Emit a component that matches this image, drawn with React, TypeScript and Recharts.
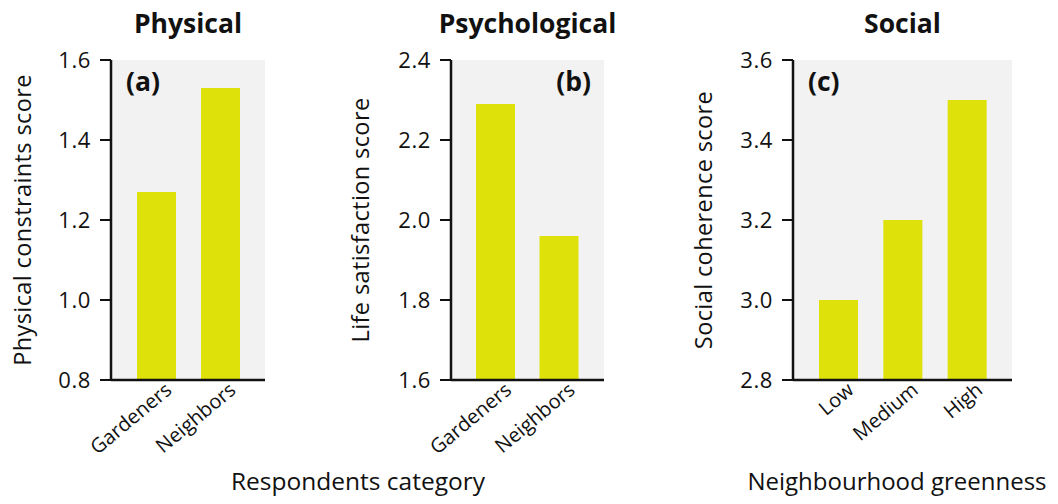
import React from 'react';
import { BarChart, Bar, XAxis, YAxis, CartesianGrid } from 'recharts';

// Category labels
const respondentCategories = ['Gardeners', 'Neighbors'];
const greennessLevels = ['Low', 'Medium', 'High'];

// Mean scores per panel
const physicalScores = [1.27, 1.53];
const psychologicalScores = [2.29, 1.96];
const socialScores = [3.0, 3.2, 3.5];

// Y-axis tick values per panel
const physicalTicks = [0.8, 1.0, 1.2, 1.4, 1.6];
const psychologicalTicks = [1.6, 1.8, 2.0, 2.2, 2.4];
const socialTicks = [2.8, 3.0, 3.2, 3.4, 3.6];

const FONT = '"Open Sans", "DejaVu Sans", sans-serif';
const BAR_COLOR = '#dee20a';
const PANEL_BG = '#f2f2f2';
const CHART_H = 504;
const TOP = 60;
const PLOT_H = 320;

const toRows = (cats: string[], vals: number[]) =>
  cats.map((category, i) => ({ category, score: vals[i] }));

const SlantedTick = (props: any) => {
  const { x, y, payload } = props;
  return (
    <text
      transform={`translate(${x + 17},${y + 12}) rotate(-40)`}
      textAnchor="end"
      fontSize={20}
      fill="#111"
      fontFamily={FONT}
    >
      {payload.value}
    </text>
  );
};

type PanelProps = {
  left: number;
  width: number;
  axisWidth: number;
  plotWidth: number;
  rows: { category: string; score: number }[];
  ticks: number[];
  title: string;
  tag: string;
  tagSide: 'left' | 'right';
  yLabel: string;
  yLabelX: number;
};

function Panel(p: PanelProps) {
  const right = p.width - p.axisWidth - p.plotWidth;
  const plotLeft = p.axisWidth;
  const plotRight = p.axisWidth + p.plotWidth;
  const center = (plotLeft + plotRight) / 2;
  return (
    <div style={{ position: 'absolute', left: p.left, top: 0 }}>
      <BarChart
        width={p.width}
        height={CHART_H}
        data={p.rows}
        margin={{ top: TOP, right, bottom: 0, left: 0 }}
        style={{ fontFamily: FONT }}
      >
        <CartesianGrid fill={PANEL_BG} stroke="none" horizontal={false} vertical={false} />
        <XAxis
          dataKey="category"
          height={CHART_H - TOP - PLOT_H}
          padding={{ left: 13, right: 13 }}
          axisLine={{ stroke: '#111', strokeWidth: 2.5 }}
          tickLine={false}
          tickSize={0}
          tickMargin={0}
          tick={<SlantedTick />}
          interval={0}
        />
        <YAxis
          width={p.axisWidth}
          domain={[p.ticks[0], p.ticks[p.ticks.length - 1]]}
          ticks={p.ticks}
          allowDataOverflow
          tickFormatter={(v: number) => v.toFixed(1)}
          axisLine={{ stroke: '#111', strokeWidth: 2.5 }}
          tickLine={{ stroke: '#111', strokeWidth: 2 }}
          tickSize={11}
          tickMargin={9}
          tick={{ fill: '#111', fontSize: 22, fontFamily: FONT, letterSpacing: 0.6 }}
        />
        <Bar dataKey="score" fill={BAR_COLOR} barSize={39} isAnimationActive={false} />
        <text
          x={center}
          y={33}
          textAnchor="middle"
          fontSize={26.5}
          fontWeight={700}
          fill="#111"
          fontFamily={FONT}
        >
          {p.title}
        </text>
        <text
          x={p.tagSide === 'left' ? plotLeft + 15 : plotRight - 13}
          y={91}
          textAnchor={p.tagSide === 'left' ? 'start' : 'end'}
          fontSize={26.5}
          fontWeight={700}
          fill="#111"
          fontFamily={FONT}
        >
          {p.tag}
        </text>
        <text
          transform={`translate(${p.yLabelX},${TOP + PLOT_H / 2}) rotate(-90)`}
          textAnchor="middle"
          dominantBaseline="central"
          fontSize={23.5}
          letterSpacing={0.4}
          fill="#111"
          fontFamily={FONT}
        >
          {p.yLabel}
        </text>
      </BarChart>
    </div>
  );
}

export default function App() {
  return (
    <div
      style={{
        position: 'absolute',
        left: 0,
        top: 0,
        width: 1058,
        height: 504,
        background: '#fff',
        overflow: 'hidden',
      }}
    >
      <Panel
        left={0}
        width={280}
        axisWidth={111}
        plotWidth={154}
        rows={toRows(respondentCategories, physicalScores)}
        ticks={physicalTicks}
        title="Physical"
        tag="(a)"
        tagSide="left"
        yLabel="Physical constraints score"
        yLabelX={22}
      />
      <Panel
        left={340}
        width={280}
        axisWidth={111}
        plotWidth={153}
        rows={toRows(respondentCategories, psychologicalScores)}
        ticks={psychologicalTicks}
        title="Psychological"
        tag="(b)"
        tagSide="right"
        yLabel="Life satisfaction score"
        yLabelX={20}
      />
      <Panel
        left={680}
        width={360}
        axisWidth={113}
        plotWidth={219}
        rows={toRows(greennessLevels, socialScores)}
        ticks={socialTicks}
        title="Social"
        tag="(c)"
        tagSide="left"
        yLabel="Social coherence score"
        yLabelX={23}
      />
      <svg
        width={1058}
        height={504}
        style={{ position: 'absolute', left: 0, top: 0, pointerEvents: 'none' }}
      >
        <text x={358} y={490} textAnchor="middle" fontSize={24.5} fill="#111" fontFamily={FONT}>
          Respondents category
        </text>
        <text x={897} y={490} textAnchor="middle" fontSize={24} fill="#111" fontFamily={FONT}>
          Neighbourhood greenness
        </text>
      </svg>
    </div>
  );
}
